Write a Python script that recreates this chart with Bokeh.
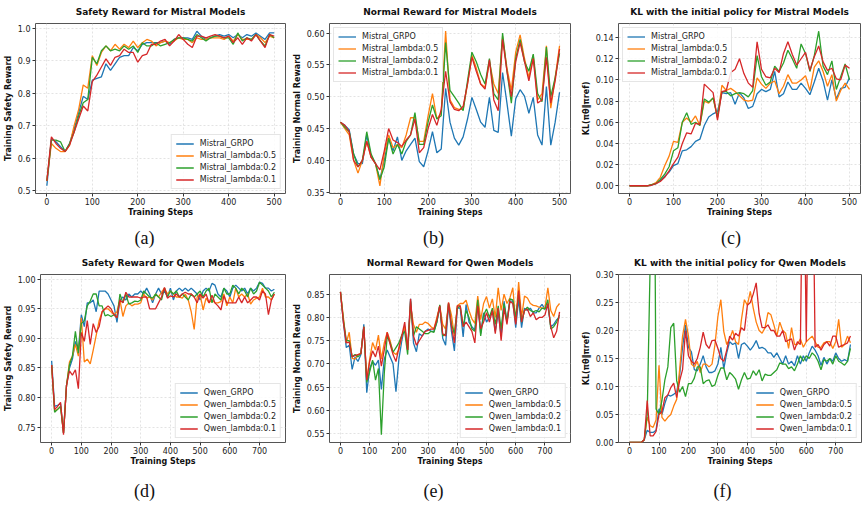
from bokeh.plotting import figure
from bokeh.layouts import column, row
from bokeh.models import FixedTicker, PrintfTickFormatter, Range1d, Div
from bokeh.embed import file_html
from bokeh.resources import INLINE

# ---------------- data ----------------
steps_mistral = list(range(0, 501, 10))
steps_qwen = list(range(0, 751, 10))

mistral_names = ["Mistral_GRPO", "Mistral_lambda:0.5", "Mistral_lambda:0.2", "Mistral_lambda:0.1"]
qwen_names = ["Qwen_GRPO", "Qwen_lambda:0.5", "Qwen_lambda:0.2", "Qwen_lambda:0.1"]
colors = ["#1f77b4", "#ff7f0e", "#2ca02c", "#d62728"]

# (a) Safety reward, Mistral
a_grpo = [0.515, 0.66, 0.65, 0.635, 0.62, 0.645, 0.69, 0.74, 0.79, 0.78,
          0.84, 0.845, 0.85, 0.89, 0.87, 0.89, 0.91, 0.915, 0.915, 0.94,
          0.93, 0.95, 0.955, 0.955, 0.955, 0.955, 0.96, 0.95, 0.965, 0.97,
          0.97, 0.97, 0.965, 0.99, 0.975, 0.965, 0.97, 0.975, 0.98, 0.975,
          0.98, 0.97, 0.98, 0.97, 0.98, 0.975, 0.985, 0.975, 0.965, 0.985,
          0.985]
a_l05 = [0.53, 0.645, 0.63, 0.62, 0.62, 0.64, 0.70, 0.75, 0.825, 0.815,
         0.915, 0.885, 0.925, 0.945, 0.93, 0.95, 0.935, 0.95, 0.94, 0.96,
         0.94, 0.955, 0.965, 0.96, 0.945, 0.955, 0.96, 0.955, 0.96, 0.97,
         0.965, 0.965, 0.955, 0.97, 0.965, 0.965, 0.97, 0.97, 0.97, 0.965,
         0.975, 0.96, 0.98, 0.965, 0.965, 0.965, 0.98, 0.97, 0.955, 0.975,
         0.97]
a_l02 = [0.53, 0.655, 0.655, 0.65, 0.62, 0.645, 0.68, 0.73, 0.77, 0.78,
         0.91, 0.89, 0.93, 0.945, 0.93, 0.935, 0.93, 0.945, 0.935, 0.945,
         0.925, 0.955, 0.945, 0.945, 0.955, 0.945, 0.95, 0.955, 0.965, 0.97,
         0.97, 0.965, 0.96, 0.98, 0.97, 0.96, 0.97, 0.975, 0.975, 0.97,
         0.97, 0.95, 0.985, 0.96, 0.97, 0.965, 0.98, 0.96, 0.945, 0.98,
         0.97]
a_l01 = [0.53, 0.665, 0.645, 0.63, 0.62, 0.64, 0.68, 0.72, 0.76, 0.745,
         0.835, 0.855, 0.88, 0.905, 0.885, 0.91, 0.915, 0.935, 0.925, 0.925,
         0.895, 0.915, 0.92, 0.95, 0.95, 0.96, 0.965, 0.945, 0.96, 0.98,
         0.965, 0.95, 0.94, 0.975, 0.975, 0.97, 0.975, 0.98, 0.975, 0.97,
         0.975, 0.955, 0.97, 0.95, 0.97, 0.96, 0.98, 0.96, 0.94, 0.98,
         0.975]

# (b) Normal reward, Mistral
b_grpo = [0.46, 0.455, 0.448, 0.41, 0.395, 0.395, 0.44, 0.405, 0.395, 0.37,
          0.40, 0.435, 0.415, 0.437, 0.40, 0.415, 0.425, 0.435, 0.398, 0.39,
          0.415, 0.445, 0.412, 0.418, 0.513, 0.46, 0.435, 0.424, 0.437, 0.465,
          0.499, 0.48, 0.46, 0.452, 0.499, 0.447, 0.444, 0.538, 0.49, 0.438,
          0.497, 0.511, 0.501, 0.474, 0.499, 0.44, 0.424, 0.516, 0.424, 0.46,
          0.507]
b_l05 = [0.46, 0.45, 0.44, 0.40, 0.38, 0.40, 0.43, 0.405, 0.395, 0.36,
         0.41, 0.44, 0.42, 0.425, 0.42, 0.44, 0.467, 0.467, 0.43, 0.43,
         0.47, 0.505, 0.465, 0.475, 0.603, 0.495, 0.483, 0.48, 0.48, 0.52,
         0.565, 0.545, 0.52, 0.515, 0.555, 0.52, 0.505, 0.595, 0.545, 0.51,
         0.57, 0.597, 0.56, 0.53, 0.565, 0.495, 0.505, 0.58, 0.482, 0.53,
         0.58]
b_l02 = [0.46, 0.452, 0.445, 0.41, 0.39, 0.40, 0.445, 0.41, 0.395, 0.37,
         0.39, 0.435, 0.41, 0.425, 0.41, 0.43, 0.44, 0.475, 0.425, 0.425,
         0.46, 0.487, 0.465, 0.47, 0.585, 0.51, 0.50, 0.49, 0.478, 0.525,
         0.57, 0.555, 0.535, 0.52, 0.56, 0.505, 0.495, 0.60, 0.54, 0.49,
         0.56, 0.59, 0.555, 0.54, 0.567, 0.505, 0.492, 0.578, 0.50, 0.53,
         0.568]
b_l01 = [0.46, 0.455, 0.445, 0.40, 0.39, 0.40, 0.43, 0.405, 0.395, 0.385,
         0.415, 0.45, 0.432, 0.428, 0.422, 0.432, 0.44, 0.465, 0.412, 0.42,
         0.45, 0.472, 0.455, 0.48, 0.54, 0.492, 0.48, 0.478, 0.485, 0.52,
         0.562, 0.54, 0.52, 0.512, 0.558, 0.495, 0.478, 0.59, 0.54, 0.50,
         0.555, 0.585, 0.555, 0.525, 0.56, 0.49, 0.495, 0.562, 0.49, 0.525,
         0.575]

# (c) KL, Mistral
c_grpo = [0, 0, 0, 0, 0, 0.0005, 0.002, 0.005, 0.009, 0.013,
          0.019, 0.021, 0.033, 0.034, 0.037, 0.042, 0.044, 0.057, 0.065, 0.068,
          0.070, 0.088, 0.087, 0.088, 0.077, 0.088, 0.083, 0.073, 0.075, 0.087,
          0.091, 0.089, 0.091, 0.108, 0.084, 0.087, 0.098, 0.091, 0.091, 0.097,
          0.092, 0.086, 0.098, 0.111, 0.099, 0.081, 0.100, 0.082, 0.092, 0.093,
          0.102]
c_l05 = [0, 0, 0, 0, 0, 0.001, 0.003, 0.008, 0.019, 0.028,
         0.042, 0.041, 0.060, 0.064, 0.060, 0.066, 0.057, 0.080, 0.078, 0.083,
         0.064, 0.095, 0.090, 0.092, 0.089, 0.085, 0.081, 0.080, 0.081, 0.102,
         0.096, 0.092, 0.097, 0.099, 0.087, 0.094, 0.105, 0.097, 0.097, 0.100,
         0.104, 0.090, 0.112, 0.118, 0.108, 0.094, 0.105, 0.080, 0.090, 0.097,
         0.091]
c_l02 = [0, 0, 0, 0, 0, 0.001, 0.002, 0.006, 0.011, 0.018,
         0.033, 0.036, 0.060, 0.069, 0.058, 0.060, 0.057, 0.082, 0.079, 0.083,
         0.065, 0.089, 0.089, 0.085, 0.087, 0.088, 0.087, 0.084, 0.090, 0.123,
         0.103, 0.095, 0.098, 0.113, 0.108, 0.116, 0.128, 0.120, 0.111, 0.134,
         0.125, 0.108, 0.123, 0.146, 0.113, 0.105, 0.118, 0.091, 0.103, 0.115,
         0.100]
c_l01 = [0, 0, 0, 0, 0, 0.0005, 0.002, 0.004, 0.008, 0.014,
         0.021, 0.027, 0.040, 0.050, 0.049, 0.059, 0.058, 0.096, 0.092, 0.088,
         0.062, 0.089, 0.090, 0.107, 0.110, 0.120, 0.106, 0.097, 0.093, 0.136,
         0.110, 0.103, 0.102, 0.111, 0.107, 0.125, 0.136, 0.124, 0.114, 0.120,
         0.126, 0.109, 0.122, 0.132, 0.117, 0.109, 0.111, 0.101, 0.100, 0.114,
         0.111]

# (d) Safety reward, Qwen
d_grpo = [0.862, 0.785, 0.787, 0.79, 0.74, 0.82, 0.85, 0.865, 0.895, 0.88,
          0.94, 0.92, 0.96, 0.96, 0.965, 0.945, 0.98, 0.98, 0.98, 0.975,
          0.965, 0.955, 0.927, 0.965, 0.97, 0.965, 0.975, 0.97, 0.975, 0.975,
          0.98, 0.975, 0.985, 0.975, 0.96, 0.975, 0.985, 0.975, 0.98, 0.97,
          0.985, 0.965, 0.98, 0.985, 0.98, 0.985, 0.98, 0.985, 0.98, 0.975,
          0.965, 0.98, 0.985, 0.98, 0.993, 0.99, 0.975, 0.97, 0.985, 0.98,
          0.97, 0.985, 0.99, 0.985, 0.98, 0.985, 0.975, 0.985, 0.98, 0.985,
          0.995, 0.993, 0.985, 0.985, 0.98, 0.983]
d_l05 = [0.855, 0.778, 0.78, 0.785, 0.74, 0.82, 0.86, 0.87, 0.89, 0.87,
         0.935, 0.86, 0.865, 0.857, 0.88, 0.905, 0.93, 0.945, 0.95, 0.95,
         0.945, 0.94, 0.945, 0.965, 0.937, 0.955, 0.96, 0.955, 0.958, 0.958,
         0.96, 0.975, 0.968, 0.97, 0.965, 0.975, 0.97, 0.978, 0.985, 0.975,
         0.98, 0.975, 0.97, 0.97, 0.968, 0.975, 0.965, 0.945, 0.915, 0.97,
         0.975, 0.948, 0.968, 0.96, 0.965, 0.96, 0.96, 0.962, 0.975, 0.955,
         0.97, 0.96, 0.985, 0.97, 0.975, 0.97, 0.975, 0.958, 0.965, 0.968,
         0.97, 0.985, 0.97, 0.97, 0.965, 0.975]
d_l02 = [0.855, 0.775, 0.78, 0.785, 0.74, 0.82, 0.855, 0.87, 0.912, 0.875,
         0.925, 0.93, 0.955, 0.963, 0.975, 0.975, 0.955, 0.955, 0.938, 0.94,
         0.937, 0.94, 0.935, 0.975, 0.96, 0.975, 0.958, 0.96, 0.963, 0.962,
         0.965, 0.98, 0.975, 0.97, 0.968, 0.975, 0.97, 0.965, 0.985, 0.97,
         0.98, 0.975, 0.98, 0.97, 0.975, 0.97, 0.965, 0.975, 0.97, 0.975,
         0.98, 0.97, 0.98, 0.985, 0.96, 0.975, 0.97, 0.965, 0.985, 0.975,
         0.975, 0.99, 0.985, 0.975, 0.985, 0.98, 0.97, 0.985, 0.975, 0.98,
         0.995, 0.99, 0.985, 0.98, 0.97, 0.978]
d_l01 = [0.855, 0.78, 0.785, 0.792, 0.737, 0.82, 0.845, 0.838, 0.847, 0.815,
         0.91, 0.895, 0.93, 0.89, 0.925, 0.91, 0.92, 0.945, 0.95, 0.955,
         0.95, 0.94, 0.935, 0.965, 0.96, 0.978, 0.97, 0.97, 0.97, 0.97,
         0.968, 0.97, 0.97, 0.95, 0.95, 0.95, 0.96, 0.97, 0.986, 0.968,
         0.972, 0.97, 0.975, 0.97, 0.975, 0.978, 0.975, 0.975, 0.97, 0.96,
         0.975, 0.968, 0.975, 0.96, 0.973, 0.96, 0.955, 0.948, 0.972, 0.96,
         0.96, 0.96, 0.96, 0.97, 0.96, 0.97, 0.96, 0.965, 0.97, 0.97,
         0.965, 0.98, 0.975, 0.94, 0.965, 0.975]

# (e) Normal reward, Qwen
e_grpo = [0.855, 0.79, 0.735, 0.74, 0.688, 0.715, 0.705, 0.72, 0.785, 0.638,
          0.69, 0.705, 0.697, 0.708, 0.645, 0.71, 0.73, 0.715, 0.70, 0.64,
          0.71, 0.75, 0.78, 0.73, 0.84, 0.745, 0.726, 0.765, 0.76, 0.77,
          0.775, 0.77, 0.77, 0.79, 0.825, 0.755, 0.74, 0.83, 0.77, 0.728,
          0.82, 0.82, 0.758, 0.828, 0.79, 0.78, 0.772, 0.83, 0.765, 0.81,
          0.79, 0.80, 0.815, 0.77, 0.81, 0.76, 0.835, 0.79, 0.835, 0.835,
          0.778, 0.84, 0.778, 0.82, 0.815, 0.82, 0.81, 0.81, 0.82, 0.828,
          0.818, 0.825, 0.78, 0.785, 0.795, 0.80]
e_l05 = [0.855, 0.80, 0.745, 0.768, 0.712, 0.71, 0.72, 0.722, 0.78, 0.665,
         0.71, 0.746, 0.73, 0.762, 0.71, 0.745, 0.768, 0.75, 0.725, 0.72,
         0.73, 0.76, 0.78, 0.73, 0.825, 0.785, 0.768, 0.785, 0.785, 0.79,
         0.787, 0.78, 0.775, 0.80, 0.825, 0.785, 0.775, 0.832, 0.805, 0.76,
         0.825, 0.83, 0.83, 0.837, 0.815, 0.797, 0.787, 0.846, 0.795, 0.83,
         0.845, 0.82, 0.84, 0.80, 0.864, 0.815, 0.85, 0.83, 0.842, 0.864,
         0.79, 0.876, 0.80, 0.846, 0.842, 0.83, 0.826, 0.825, 0.822, 0.82,
         0.82, 0.864, 0.815, 0.802, 0.822, 0.83]
e_l02 = [0.855, 0.795, 0.75, 0.75, 0.715, 0.72, 0.715, 0.723, 0.78, 0.66,
         0.683, 0.708, 0.665, 0.69, 0.547, 0.68, 0.76, 0.745, 0.725, 0.735,
         0.745, 0.762, 0.77, 0.72, 0.835, 0.76, 0.78, 0.775, 0.77, 0.765,
         0.765, 0.77, 0.768, 0.79, 0.827, 0.76, 0.765, 0.83, 0.785, 0.765,
         0.82, 0.825, 0.78, 0.815, 0.80, 0.775, 0.77, 0.838, 0.76, 0.805,
         0.818, 0.80, 0.82, 0.785, 0.825, 0.775, 0.83, 0.79, 0.84, 0.838,
         0.80, 0.85, 0.79, 0.815, 0.822, 0.815, 0.812, 0.815, 0.812, 0.82,
         0.818, 0.838, 0.775, 0.78, 0.79, 0.805]
e_l01 = [0.855, 0.79, 0.745, 0.747, 0.715, 0.718, 0.72, 0.722, 0.78, 0.665,
         0.705, 0.728, 0.715, 0.738, 0.695, 0.73, 0.768, 0.742, 0.72, 0.705,
         0.735, 0.76, 0.79, 0.73, 0.84, 0.76, 0.74, 0.75, 0.76, 0.77,
         0.772, 0.775, 0.775, 0.795, 0.825, 0.765, 0.76, 0.832, 0.78, 0.745,
         0.825, 0.825, 0.78, 0.79, 0.78, 0.77, 0.745, 0.825, 0.775, 0.79,
         0.81, 0.79, 0.815, 0.765, 0.82, 0.75, 0.82, 0.785, 0.835, 0.83,
         0.785, 0.858, 0.79, 0.815, 0.818, 0.802, 0.81, 0.795, 0.80, 0.80,
         0.805, 0.83, 0.78, 0.756, 0.77, 0.812]

# (f) KL, Qwen
f_grpo = [0, 0, 0, 0, 0, 0.005, 0.022, 0.018, 0.018, 0.022,
          0.06, 0.05, 0.07, 0.085, 0.083, 0.086, 0.09, 0.12, 0.17, 0.21,
          0.17, 0.162, 0.13, 0.128, 0.14, 0.155, 0.135, 0.125, 0.125, 0.128,
          0.14, 0.17, 0.132, 0.16, 0.18, 0.175, 0.178, 0.15, 0.175, 0.178,
          0.172, 0.165, 0.172, 0.182, 0.168, 0.17, 0.167, 0.16, 0.16, 0.152,
          0.16, 0.15, 0.14, 0.155, 0.14, 0.145, 0.137, 0.155, 0.14, 0.155,
          0.145, 0.16, 0.172, 0.165, 0.155, 0.138, 0.152, 0.14, 0.15, 0.145,
          0.16, 0.15, 0.145, 0.148, 0.145, 0.175]
f_l05 = [0, 0, 0, 0, 0, 0.005, 0.045, 0.03, 0.027, 0.04,
         0.138, 0.045, 0.038, 0.045, 0.05, 0.065, 0.077, 0.13, 0.19, 0.22,
         0.19, 0.14, 0.135, 0.145, 0.125, 0.14, 0.14, 0.135, 0.14, 0.175,
         0.225, 0.255, 0.198, 0.175, 0.185, 0.20, 0.18, 0.175, 0.22, 0.255,
         0.245, 0.27, 0.24, 0.215, 0.20, 0.195, 0.205, 0.232, 0.228, 0.21,
         0.19, 0.215, 0.20, 0.195, 0.168, 0.205, 0.175, 0.175, 0.185, 0.17,
         0.18, 0.185, 0.19, 0.18, 0.17, 0.17, 0.178, 0.18, 0.18, 0.168,
         0.18, 0.22, 0.17, 0.175, 0.19, 0.178]
f_l02 = [0, 0, 0, 0, 0, 0.005, 0.05, 0.32, 0.9, 0.06,
         0.05, 0.075, 0.112, 0.135, 0.205, 0.213, 0.11, 0.09, 0.10, 0.082,
         0.105, 0.105, 0.115, 0.135, 0.135, 0.105, 0.11, 0.112, 0.10, 0.103,
         0.12, 0.133, 0.133, 0.112, 0.125, 0.12, 0.113, 0.095, 0.112, 0.125,
         0.113, 0.115, 0.128, 0.12, 0.13, 0.11, 0.122, 0.12, 0.12, 0.125,
         0.13, 0.142, 0.14, 0.14, 0.132, 0.135, 0.128, 0.14, 0.155, 0.145,
         0.155, 0.15, 0.16, 0.155, 0.145, 0.13, 0.148, 0.145, 0.15, 0.14,
         0.155, 0.145, 0.142, 0.138, 0.145, 0.168]
f_l01 = [0, 0, 0, 0, 0, 0.005, 0.075, 0.012, 0.012, 0.02,
         0.05, 0.055, 0.08, 0.085, 0.098, 0.106, 0.08, 0.11, 0.13, 0.20,
         0.155, 0.145, 0.14, 0.15, 0.17, 0.197, 0.175, 0.168, 0.182, 0.183,
         0.168, 0.15, 0.145, 0.165, 0.19, 0.183, 0.195, 0.19, 0.205, 0.20,
         0.245, 0.25, 0.265, 0.285, 0.23, 0.205, 0.205, 0.21, 0.20, 0.20,
         0.19, 0.19, 0.20, 0.18, 0.183, 0.185, 0.165, 0.18, 0.175, 0.6,
         0.18, 0.6, 0.6, 0.17, 0.175, 0.165, 0.175, 0.18, 0.172, 0.19,
         0.19, 0.17, 0.173, 0.175, 0.178, 0.19]

mistral_x_ticks = [0, 100, 200, 300, 400, 500]
qwen_x_ticks = [0, 100, 200, 300, 400, 500, 600, 700]
a_y_ticks = [0.5, 0.6, 0.7, 0.8, 0.9, 1.0]
b_y_ticks = [0.35, 0.40, 0.45, 0.50, 0.55, 0.60]
c_y_ticks = [0.00, 0.02, 0.04, 0.06, 0.08, 0.10, 0.12, 0.14]
d_y_ticks = [0.75, 0.80, 0.85, 0.90, 0.95, 1.00]
e_y_ticks = [0.55, 0.60, 0.65, 0.70, 0.75, 0.80, 0.85]
f_y_ticks = [0.00, 0.05, 0.10, 0.15, 0.20, 0.25, 0.30]

captions = ["(a)", "(b)", "(c)", "(d)", "(e)", "(f)"]
KL_LABEL = "KL(πθ‖πref)"

FONT = "DejaVu Sans"


def make_fig(title, ylabel, xs, series, names, xr, yr, xticks, yticks, yfmt,
             loc, height, bl, br, bt, bb):
    p = figure(width=289, height=height, x_range=Range1d(*xr), y_range=Range1d(*yr),
               output_backend="svg", toolbar_location=None, tools="",
               min_border_left=bl, min_border_right=br,
               min_border_top=bt, min_border_bottom=bb)
    p.title.text = title
    p.title.align = "center"
    p.title.vertical_align = "top"
    p.title.text_font = FONT
    p.title.text_font_size = "9px"
    p.title.text_font_style = "bold"
    p.title.text_color = "#111111"
    p.title.standoff = 10
    p.outline_line_color = "#555555"
    p.outline_line_width = 1
    p.outline_line_alpha = 1
    p.background_fill_color = "white"
    p.border_fill_color = "white"
    for ys, name, col in zip(series, names, colors):
        p.line(xs, ys, line_color=col, line_width=1.3, legend_label=name)
    p.xaxis.axis_label = "Training Steps"
    p.yaxis.axis_label = ylabel
    p.xaxis.ticker = FixedTicker(ticks=xticks)
    p.yaxis.ticker = FixedTicker(ticks=yticks)
    p.xaxis.formatter = PrintfTickFormatter(format="%d")
    p.yaxis.formatter = PrintfTickFormatter(format=yfmt)
    for ax in (p.xaxis[0], p.yaxis[0]):
        ax.axis_line_color = None
        ax.major_tick_line_color = "#333333"
        ax.major_tick_out = 3
        ax.major_tick_in = 0
        ax.minor_tick_line_color = None
        ax.major_label_text_font = FONT
        ax.major_label_text_font_size = "8px"
        ax.major_label_text_color = "#222222"
        ax.major_label_standoff = 2
        ax.axis_label_text_font = FONT
        ax.axis_label_text_font_size = "8px"
        ax.axis_label_text_font_style = "bold"
        ax.axis_label_text_color = "#111111"
        ax.axis_label_standoff = 2
    p.xaxis.major_label_standoff = 1
    p.xaxis.axis_label_standoff = 0
    p.grid.grid_line_color = "#dcdcdc"
    p.grid.grid_line_dash = "2 2"
    p.grid.grid_line_width = 0.8
    lg = p.legend[0]
    lg.location = loc
    lg.label_text_font = FONT
    lg.label_text_font_size = "8px"
    lg.label_text_color = "#222222"
    lg.label_height = 9
    lg.glyph_height = 9
    lg.glyph_width = 18
    lg.spacing = 3
    lg.padding = 4
    lg.margin = 4
    lg.label_standoff = 6
    lg.border_line_color = "#cccccc"
    lg.border_line_width = 1
    lg.background_fill_alpha = 0.85
    return p


mx = (-25, 525)
qx = (-37.5, 787.5)
TOP_H = 222
BOT_H = 218

pa = make_fig("Safety Reward for Mistral Models", "Training Safety Reward", steps_mistral,
              [a_grpo, a_l05, a_l02, a_l01], mistral_names, mx, (0.491, 1.014),
              mistral_x_ticks, a_y_ticks, "%.1f", "bottom_right", TOP_H, 33, 4, 23, TOP_H - 193)
pb = make_fig("Normal Reward for Mistral Models", "Training Normal Reward", steps_mistral,
              [b_grpo, b_l05, b_l02, b_l01], mistral_names, mx, (0.348, 0.615),
              mistral_x_ticks, b_y_ticks, "%.2f", "top_left", TOP_H, 36, 8, 23, TOP_H - 193)
pc = make_fig("KL with the initial policy for Mistral Models", KL_LABEL, steps_mistral,
              [c_grpo, c_l05, c_l02, c_l01], mistral_names, mx, (-0.0073, 0.1533),
              mistral_x_ticks, c_y_ticks, "%.2f", "top_left", TOP_H, 37, 7, 23, TOP_H - 193)
pd_ = make_fig("Safety Reward for Qwen Models", "Training Safety Reward", steps_qwen,
               [d_grpo, d_l05, d_l02, d_l01], qwen_names, qx, (0.724, 1.008),
               qwen_x_ticks, d_y_ticks, "%.2f", "bottom_right", BOT_H, 38, 4, 24, BOT_H - 193)
pe = make_fig("Normal Reward for Qwen Models", "Training Normal Reward", steps_qwen,
              [e_grpo, e_l05, e_l02, e_l01], qwen_names, qx, (0.5305, 0.8925),
              qwen_x_ticks, e_y_ticks, "%.2f", "bottom_right", BOT_H, 37, 8, 24, BOT_H - 193)
pf = make_fig("KL with the initial policy for Qwen Models", KL_LABEL, steps_qwen,
              [f_grpo, f_l05, f_l02, f_l01], qwen_names, qx, (0.0, 0.30),
              qwen_x_ticks, f_y_ticks, "%.2f", "bottom_right", BOT_H, 37, 6, 24, BOT_H - 193)


def caption(text, h, line_h, shift=0):
    html = ('<div style="width:289px;height:%dpx;text-align:center;'
            'font-family:\'Liberation Serif\',serif;font-size:18px;color:#111;'
            'line-height:%dpx;padding-left:%dpx;box-sizing:border-box;">%s</div>'
            % (h, line_h, shift, text))
    return Div(text=html, width=289, height=h, margin=(0, 0, 0, 0))


cap_top = row(caption(captions[0], 250 - TOP_H, 32),
              caption(captions[1], 250 - TOP_H, 32),
              caption(captions[2], 250 - TOP_H, 32, 17))
cap_bot = row(caption(captions[3], 275 - BOT_H, 46),
              caption(captions[4], 275 - BOT_H, 46),
              caption(captions[5], 275 - BOT_H, 46))

layout = column(row(pa, pb, pc), cap_top, row(pd_, pe, pf), cap_bot)

open("out.html", "w").write(file_html(layout, INLINE, "Training curves"))
